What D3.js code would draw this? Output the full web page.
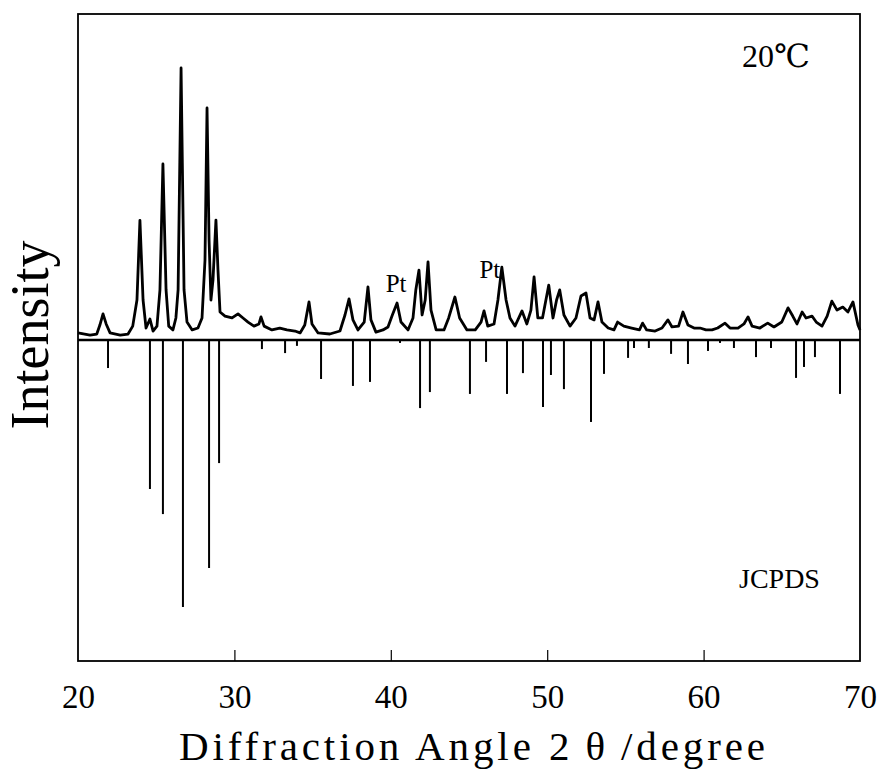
<!DOCTYPE html>
<html>
<head>
<meta charset="utf-8">
<script src="https://cdn.jsdelivr.net/npm/d3@7"></script>
<style>
  body { margin: 0; background: #fff; }
  svg { display: block; }
  text { font-family: "Liberation Serif", "DejaVu Serif", serif; fill: #000; }
</style>
</head>
<body>
<svg id="chart" width="882" height="771"></svg>
<script>
// measured XRD scan at 20C: [2theta (deg), relative intensity (%)]
var scan = [
  [20.0, 2.6], [20.77, 1.8], [21.2, 2.2], [21.4, 5.5], [21.6, 9.6], [21.8, 5.9], [22.05, 2.6],
  [22.7, 1.8], [23.2, 2.2], [23.5, 5.1], [23.77, 14.7], [23.96, 44], [24.16, 14.7], [24.35, 4.4],
  [24.6, 7.7], [24.8, 3.3], [25.05, 5.1], [25.24, 18.4], [25.43, 64.7], [25.63, 18.4], [25.8, 5.1],
  [26.07, 3.7], [26.26, 8.1], [26.4, 18.4], [26.59, 100], [26.78, 18.4], [26.97, 6.6], [27.3, 3.7],
  [27.67, 4.4], [27.93, 8.1], [28.12, 29.4], [28.25, 85.3], [28.38, 36.8], [28.5, 14.7], [28.63, 22],
  [28.82, 44.1], [28.95, 25.7], [29.08, 10.3], [29.4, 8.8], [29.85, 8.1], [30.23, 9.6], [30.55, 8.1],
  [30.87, 6.6], [31.25, 5.1], [31.57, 5.9], [31.7, 8.5], [31.9, 5.1], [32.4, 3.7], [32.9, 4.4],
  [33.36, 3.7], [33.87, 3.3], [34.2, 2.6], [34.5, 5.5], [34.77, 14], [34.96, 5.9], [35.35, 2.6],
  [36.1, 2.2], [36.75, 3.3], [37.07, 9.2], [37.33, 15.1], [37.58, 7.4], [37.9, 3.7], [38.3, 6.6],
  [38.54, 19.5], [38.73, 7.4], [39.05, 2.9], [39.5, 3.7], [39.82, 4.8], [40.1, 9.2], [40.4, 13.6],
  [40.65, 6.6], [41.1, 3.7], [41.42, 8.1], [41.6, 18.4], [41.8, 25.7], [42.0, 9.2], [42.2, 14.7],
  [42.38, 28.7], [42.57, 11], [42.9, 3.7], [43.4, 3.7], [43.7, 8.1], [44.1, 15.8], [44.4, 8.1],
  [44.87, 3.7], [45.4, 3.7], [45.77, 6.6], [45.96, 10.7], [46.2, 5.1], [46.6, 5.9], [46.85, 14.7],
  [47.1, 26.8], [47.37, 14.7], [47.62, 8.1], [47.94, 5.1], [48.39, 10.7], [48.7, 5.9], [48.96, 11],
  [49.16, 23.2], [49.4, 8.1], [49.7, 8.1], [50.1, 20.2], [50.37, 8.1], [50.6, 14.7], [50.8, 18.4],
  [51.07, 9.2], [51.46, 5.1], [51.84, 8.1], [52.16, 16.2], [52.48, 17.3], [52.74, 8.1], [53.0, 7.4],
  [53.25, 14], [53.5, 6.6], [53.9, 4.4], [54.27, 3.7], [54.5, 6.6], [54.9, 5.1], [55.4, 4.4],
  [55.9, 3.7], [56.1, 6.2], [56.36, 3.7], [56.9, 3.3], [57.34, 4.4], [57.72, 7.4], [57.98, 4.8],
  [58.4, 5.1], [58.68, 10.3], [59.0, 5.5], [59.39, 4.4], [59.77, 4.4], [60.15, 3.7], [60.54, 3.7],
  [60.9, 4.4], [61.37, 6.2], [61.69, 4.4], [62.2, 4.4], [62.58, 5.9], [62.84, 8.5], [63.1, 5.1],
  [63.6, 4.4], [64.1, 6.2], [64.5, 4.8], [65.0, 6.6], [65.4, 11.8], [65.7, 8.8], [65.97, 5.9],
  [66.3, 10.3], [66.55, 8.1], [66.93, 8.8], [67.2, 6.6], [67.57, 5.1], [67.9, 8.8], [68.2, 14.3],
  [68.53, 11], [68.9, 12.1], [69.23, 10.3], [69.55, 14], [69.87, 5.5], [70.0, 3.7]
];

// JCPDS reference lines: [2theta (deg), I/I0 (%)]
var jcpds = [
  [21.92, 10.5], [24.6, 55.8], [25.43, 65.2], [26.71, 100], [28.38, 85.4], [29.02, 46.1],
  [31.76, 3.4], [33.24, 4.9], [34.0, 2.2], [35.54, 14.6], [37.58, 17.2], [38.67, 15.7],
  [40.59, 1.1], [41.87, 25.5], [42.5, 19.5], [45.06, 20.2], [46.09, 8.2], [47.43, 20.2],
  [48.45, 12.4], [49.73, 25.1], [50.24, 13.1], [51.07, 18.4], [52.8, 30.7], [53.63, 12.7],
  [55.17, 6.7], [55.55, 3.0], [56.5, 3.0], [57.92, 5.2], [59.0, 9.0], [60.28, 4.1],
  [61.05, 1.1], [61.94, 3.0], [63.35, 6.4], [64.31, 3.0], [65.91, 14.2], [66.42, 10.1],
  [67.12, 6.4], [68.72, 20.2]
];

var xTicks = [20, 30, 40, 50, 60, 70];
var ptPeaks = [40.4, 47.1];   // positions of the Pt labels

var svg = d3.select("#chart");
//plot box (window.top is reserved, so use a prefix)
var boxL = 78, boxT = 14, boxR = 860, boxB = 661, zeroY = 340;

var x = d3.scaleLinear().domain([20, 70]).range([boxL, boxR]);
var yUp = d3.scaleLinear().domain([0, 100]).range([zeroY, 68]);
var yDown = d3.scaleLinear().domain([0, 100]).range([zeroY, 607]);

//scan curve
var line = d3.line().x(function (d) { return x(d[0]); }).y(function (d) { return yUp(d[1]); });
svg.append("path").datum(scan)
    .attr("d", line)
    .attr("fill", "none").attr("stroke", "#000")
    .attr("stroke-width", 2.8).attr("stroke-linejoin", "round");

//JCPDS sticks, drawn downward
svg.append("g").selectAll("line").data(jcpds).enter().append("line")
    .attr("x1", function (d) { return x(d[0]); }).attr("x2", function (d) { return x(d[0]); })
    .attr("y1", zeroY).attr("y2", function (d) { return yDown(d[1]); })
    .attr("stroke", "#000").attr("stroke-width", 2);

//zero line
svg.append("line").attr("x1", boxL).attr("x2", boxR).attr("y1", zeroY).attr("y2", zeroY)
    .attr("stroke", "#000").attr("stroke-width", 2.5);

//frame
svg.append("rect").attr("x", boxL).attr("y", boxT).attr("width", boxR - boxL).attr("height", boxB - boxT)
    .attr("fill", "none").attr("stroke", "#000").attr("stroke-width", 1.8);

//x axis, ticks pointing inward
var xAxis = d3.axisBottom(x).tickValues(xTicks).tickSizeInner(-11).tickSizeOuter(0).tickPadding(24);
var gx = svg.append("g").attr("transform", "translate(0," + boxB + ")").call(xAxis);
gx.select(".domain").remove();
gx.selectAll(".tick line").attr("stroke-width", 1.2)
    .filter(function (d) { return d === 20 || d === 70; }).remove();
gx.selectAll(".tick text").attr("font-size", 33).attr("font-family", "Liberation Serif").attr("fill", "#000");

//labels
svg.append("text").attr("x", 179).attr("y", 760).attr("font-size", 41)
    .attr("textLength", 586).attr("lengthAdjust", "spacing")
    .text("Diffraction Angle 2\u2009θ\u2009/degree");

svg.append("text").attr("transform", "translate(48,335) rotate(-90)")
    .attr("text-anchor", "middle").attr("font-size", 54).text("Intensity");

svg.append("text").attr("x", 742).attr("y", 67).attr("font-size", 32).text("20℃");
svg.append("text").attr("x", 739).attr("y", 588).attr("font-size", 28).text("JCPDS");

svg.selectAll(".pt").data(ptPeaks).enter().append("text")
    .attr("class", "pt")
    .attr("x", function (d, i) { return x(d) + (i === 0 ? -1 : -12); })
    .attr("y", function (d, i) { return i === 0 ? 292 : 278; })
    .attr("text-anchor", "middle").attr("font-size", 25).text("Pt");
</script>
</body>
</html>
